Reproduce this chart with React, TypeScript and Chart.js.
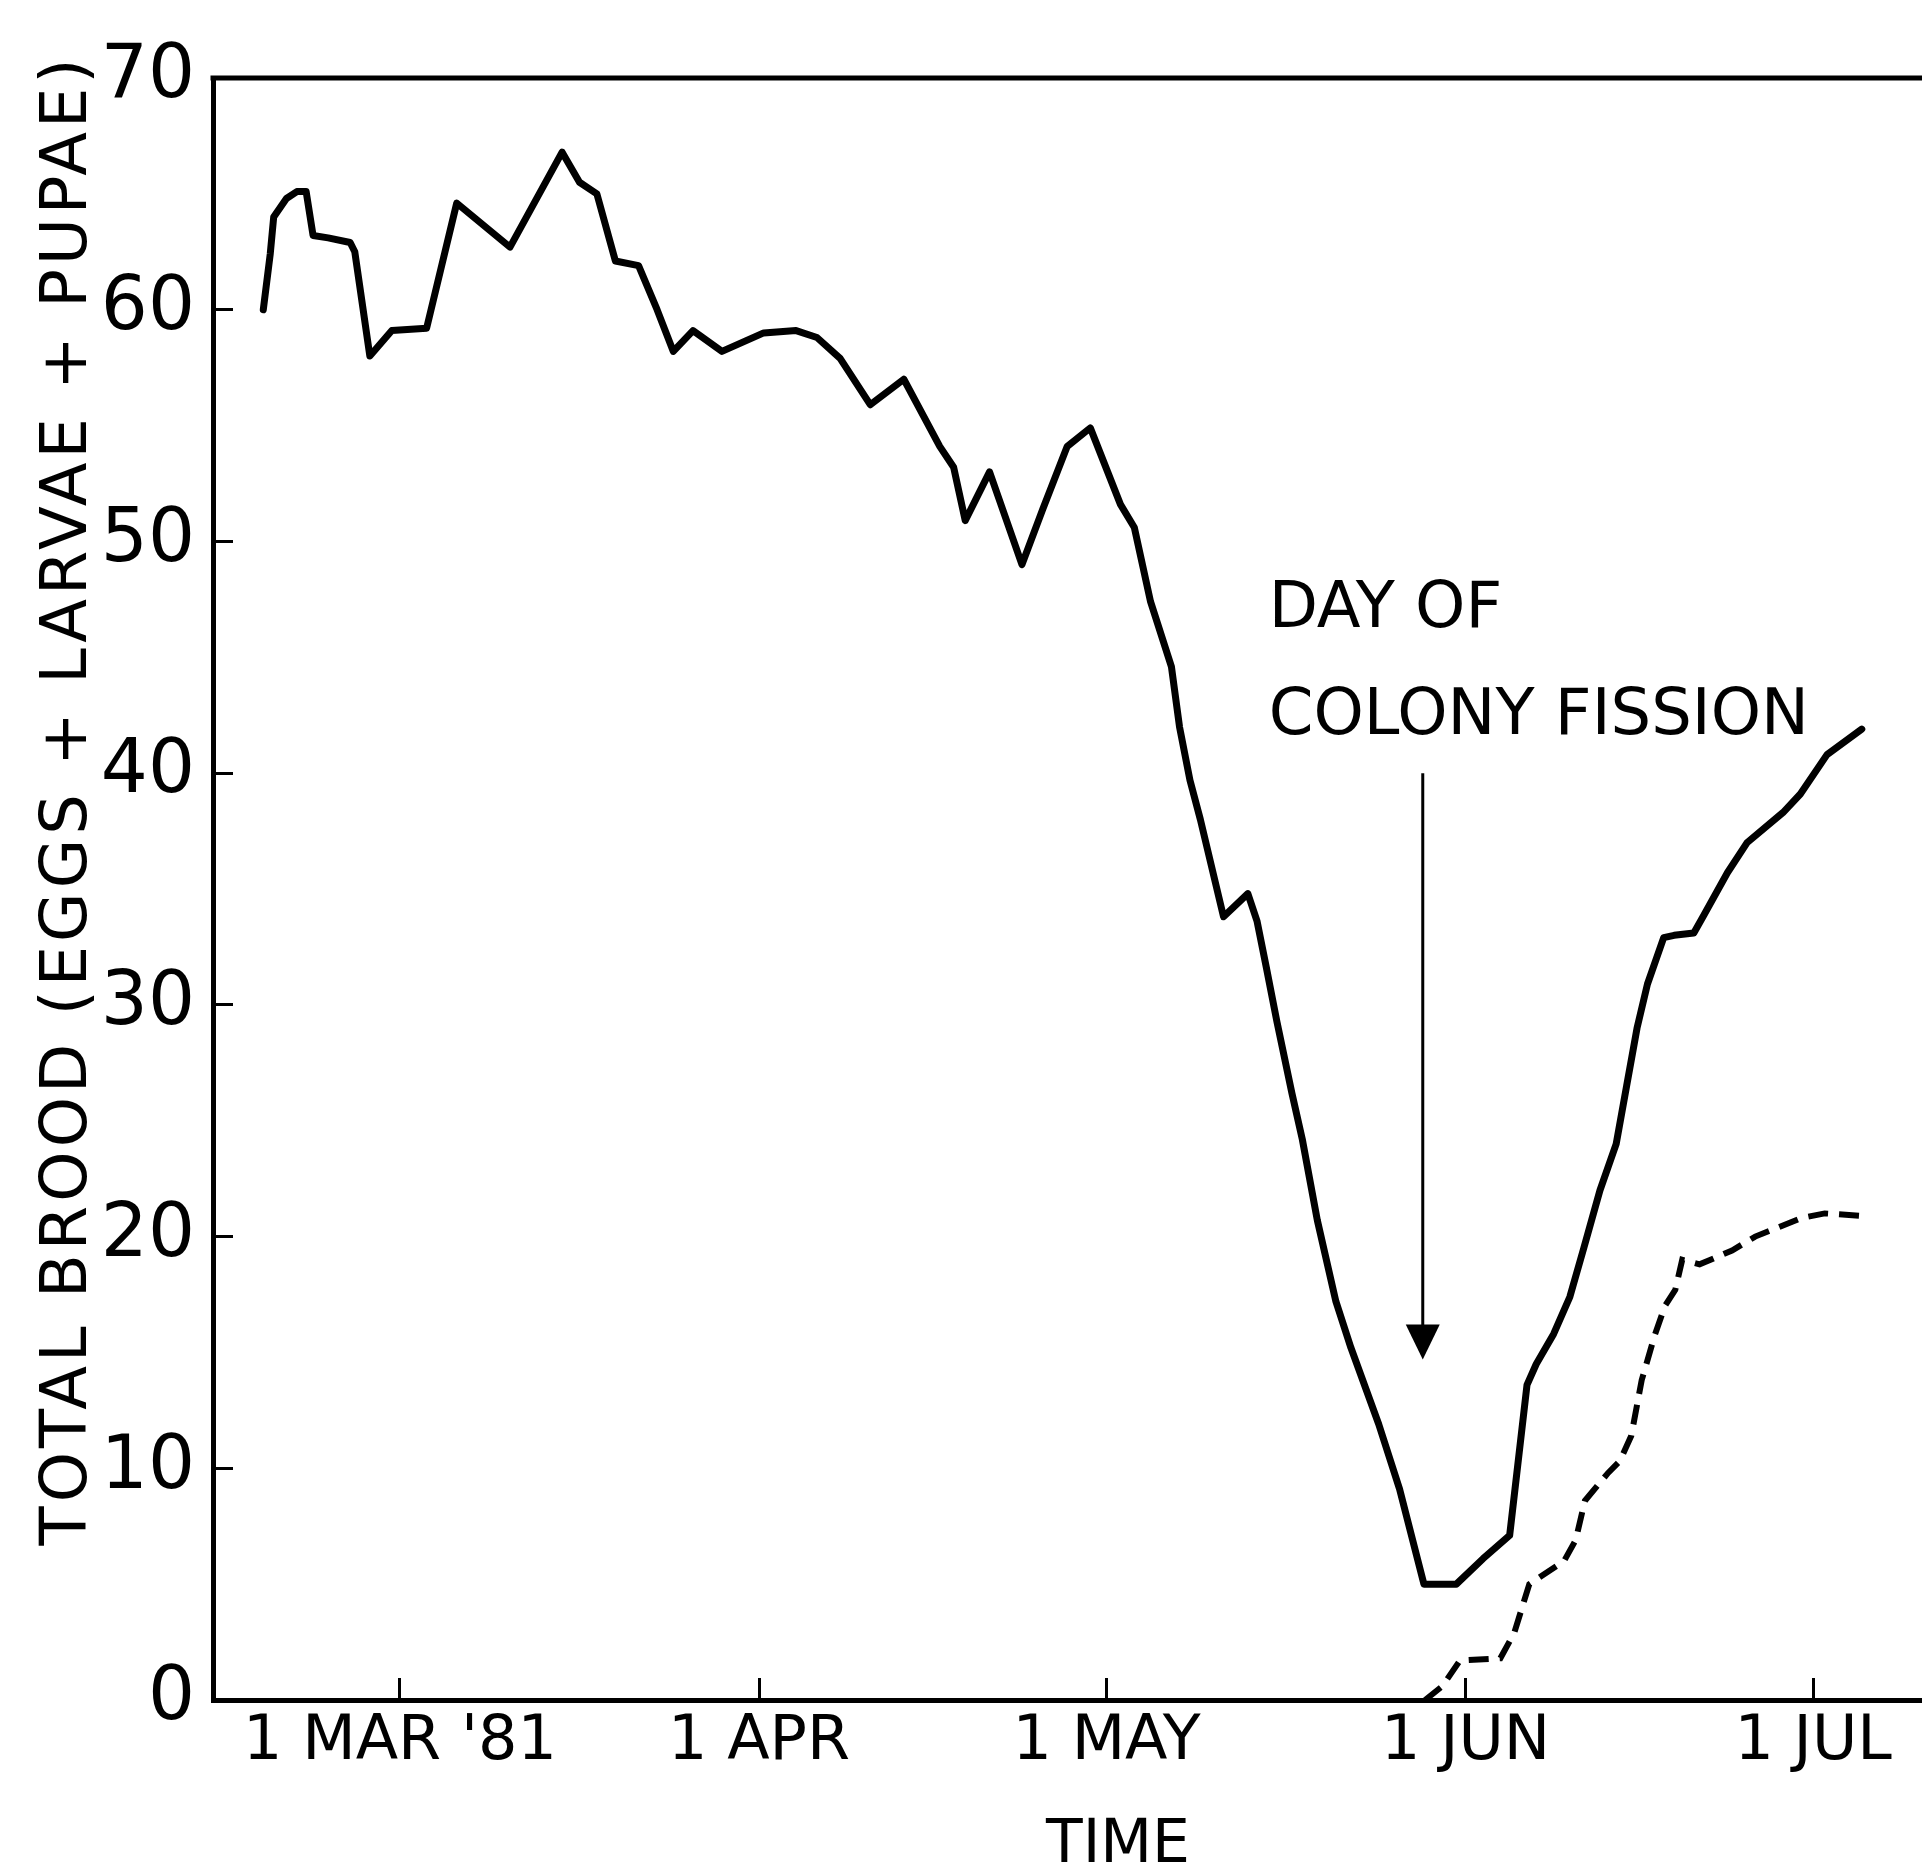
import React, { useEffect, useRef } from "react";
import { Chart, registerables } from "chart.js";

Chart.register(...registerables);

// x = days since 1 March 1981
const TICK_DAYS = [0, 31, 61, 92, 122];
const TICK_LABELS = ["1 MAR '81", "1 APR", "1 MAY", "1 JUN", "1 JUL"];

const TOTAL_DAYS = [
  -11.8, -11.2, -10.9, -9.8, -8.9, -8.1, -7.5, -6.2, -4.3, -3.9, -2.6, -0.7, 2.3, 4.9, 9.5, 14.0,
  15.5, 17.0, 18.6, 20.6, 22.2, 23.6, 25.3, 27.8, 31.4, 34.2, 36.0, 38.0, 40.6, 43.5, 46.6, 47.8,
  48.8, 50.9, 53.7, 55.5, 57.6, 59.6, 62.2, 63.4, 64.8, 66.6, 67.3, 68.2, 69.1, 71.1, 73.2, 74.0,
  74.8, 75.7, 77.0, 77.9, 79.2, 80.8, 82.1, 84.5, 86.3, 88.4, 91.2, 93.5, 95.8, 97.3, 98.1, 99.6,
  101.0, 102.2, 103.6, 105.0, 105.9, 106.8, 107.7, 109.1, 110.0, 111.7, 112.6, 114.6, 116.3,
  119.4, 120.9, 123.2, 126.2,
];
const TOTAL_BROOD = [
  60.0, 62.4, 64.0, 64.8, 65.1, 65.1, 63.2, 63.1, 62.9, 62.5, 58.0, 59.1, 59.2, 64.6, 62.7, 66.8,
  65.5, 65.0, 62.1, 61.9, 60.0, 58.2, 59.1, 58.2, 59.0, 59.1, 58.8, 57.9, 55.9, 57.0, 54.1, 53.2,
  50.9, 53.0, 49.0, 51.4, 54.1, 54.9, 51.6, 50.6, 47.4, 44.6, 42.0, 39.7, 38.0, 33.8, 34.8, 33.6,
  31.6, 29.3, 26.2, 24.2, 20.7, 17.2, 15.2, 11.9, 9.1, 5.0, 5.0, 6.1, 7.1, 13.6, 14.5, 15.8,
  17.4, 19.5, 22.0, 24.0, 26.5, 29.0, 30.9, 32.9, 33.0, 33.1, 33.9, 35.7, 37.0,
  38.3, 39.1, 40.8, 41.9,
];

const NEW_DAYS = [
  88.5, 90.0, 91.5, 95.0, 96.2, 97.5, 100.5, 101.5, 102.3, 104.3, 105.3, 106.3, 107.2, 108.3,
  109.2, 110.1, 110.7, 112.2, 115.0, 117.0, 119.0, 121.0, 123.0, 126.0,
];
const NEW_BROOD = [
  0, 0.6, 1.7, 1.8, 2.9, 5.0, 6.0, 6.9, 8.6, 9.8, 10.3, 11.4, 13.8, 15.7,
  17.0, 17.7, 19.0, 18.8, 19.4, 20.0, 20.4, 20.8, 21.0, 20.9,
];

const FISSION_DAY = 88.3;
const ARROW_FROM = 40;
const ARROW_TO = 14.7;
const NOTE_LINES = ["DAY OF", "COLONY FISSION"];
const NOTE_DAY = 75.0;
const NOTE_LEVELS = [46.3, 41.7];

const Y_TITLE = "TOTAL BROOD (EGGS + LARVAE + PUPAE)";
const X_TITLE = "TIME";

const FONT = '"DejaVu Sans", "Liberation Sans", sans-serif';

const decor = {
  id: "decor",
  afterDraw(chart: any) {
    const { ctx, chartArea } = chart;
    const x = chart.scales.x;
    const y = chart.scales.y;
    ctx.save();
    ctx.strokeStyle = "#000";
    ctx.fillStyle = "#000";

    // top frame line
    ctx.lineWidth = 5;
    ctx.beginPath();
    ctx.moveTo(chartArea.left - 2.5, chartArea.top);
    ctx.lineTo(chartArea.right, chartArea.top);
    ctx.stroke();

    // fission arrow
    const ax = x.getPixelForValue(FISSION_DAY);
    const yTop = y.getPixelForValue(ARROW_FROM);
    const yTip = y.getPixelForValue(ARROW_TO);
    ctx.lineWidth = 3;
    ctx.beginPath();
    ctx.moveTo(ax, yTop);
    ctx.lineTo(ax, yTip - 30);
    ctx.stroke();
    ctx.beginPath();
    ctx.moveTo(ax - 17, yTip - 35);
    ctx.lineTo(ax + 17, yTip - 35);
    ctx.lineTo(ax, yTip);
    ctx.closePath();
    ctx.fill();

    // annotation text
    ctx.font = `64px ${FONT}`;
    ctx.textAlign = "left";
    ctx.textBaseline = "alphabetic";
    NOTE_LINES.forEach((t, i) => {
      ctx.fillText(t, x.getPixelForValue(NOTE_DAY), y.getPixelForValue(NOTE_LEVELS[i]));
    });

    // x title
    ctx.font = `60px ${FONT}`;
    ctx.textAlign = "center";
    ctx.textBaseline = "middle";
    ctx.fillText(X_TITLE, 1118, 1846);

    // y title
    ctx.translate(69, 800);
    ctx.rotate(-Math.PI / 2);
    ctx.font = `64px ${FONT}`;
    (ctx as any).letterSpacing = "4px";
    ctx.fillText(Y_TITLE, 0, 0);
    ctx.restore();
  },
};

export default function App() {
  const ref = useRef<HTMLCanvasElement | null>(null);
  useEffect(() => {
    document.body.style.margin = "0";
    document.body.style.overflow = "hidden";
    const canvas = ref.current;
    if (!canvas) return;
    const chart = new Chart(canvas, {
      type: "line",
      data: {
        datasets: [
          {
            data: TOTAL_DAYS.map((d, i) => ({ x: d, y: TOTAL_BROOD[i] })),
            borderColor: "#000",
            borderWidth: 7,
            pointRadius: 0,
            tension: 0,
            fill: false,
            borderJoinStyle: "round",
            borderCapStyle: "round",
          },
          {
            data: NEW_DAYS.map((d, i) => ({ x: d, y: NEW_BROOD[i] })),
            borderColor: "#000",
            borderWidth: 6,
            borderDash: [20, 11],
            pointRadius: 0,
            tension: 0,
            fill: false,
          },
        ],
      },
      options: {
        responsive: false,
        animation: false,
        layout: { padding: { top: 78, left: 0, right: 0, bottom: 0 } },
        plugins: { legend: { display: false }, tooltip: { enabled: false } },
        scales: {
          x: {
            type: "linear",
            min: -16.14,
            max: 131.4,
            afterFit(s: any) {
              s.height = 174;
              s.paddingLeft = 0;
              s.paddingRight = 0;
            },
            afterBuildTicks(s: any) {
              s.ticks = TICK_DAYS.map((v) => ({ value: v }));
            },
            ticks: {
              autoSkip: false,
              maxRotation: 0,
              padding: 28,
              color: "#000",
              font: { family: FONT, size: 62 },
              callback: (v: any) => {
                const i = TICK_DAYS.indexOf(Number(v));
                return i >= 0 ? TICK_LABELS[i] : "";
              },
            },
            grid: { drawOnChartArea: false, drawTicks: true, tickLength: -22, lineWidth: 3, color: "#000" },
            border: { display: true, color: "#000", width: 5 },
          },
          y: {
            min: 0,
            max: 70,
            afterFit(s: any) {
              s.width = 213;
              s.paddingTop = 0;
              s.paddingBottom = 0;
            },
            ticks: {
              stepSize: 10,
              padding: 38,
              color: "#000",
              font: { family: FONT, size: 74 },
            },
            grid: { drawOnChartArea: false, drawTicks: true, tickLength: -20, lineWidth: 3, color: "#000" },
            border: { display: true, color: "#000", width: 5 },
          },
        },
      },
      plugins: [decor],
    } as any);
    return () => chart.destroy();
  }, []);
  return (
    <div style={{ width: 1922, height: 1874, background: "#fff" }}>
      <canvas ref={ref} width={1922} height={1874} style={{ display: "block" }} />
    </div>
  );
}
